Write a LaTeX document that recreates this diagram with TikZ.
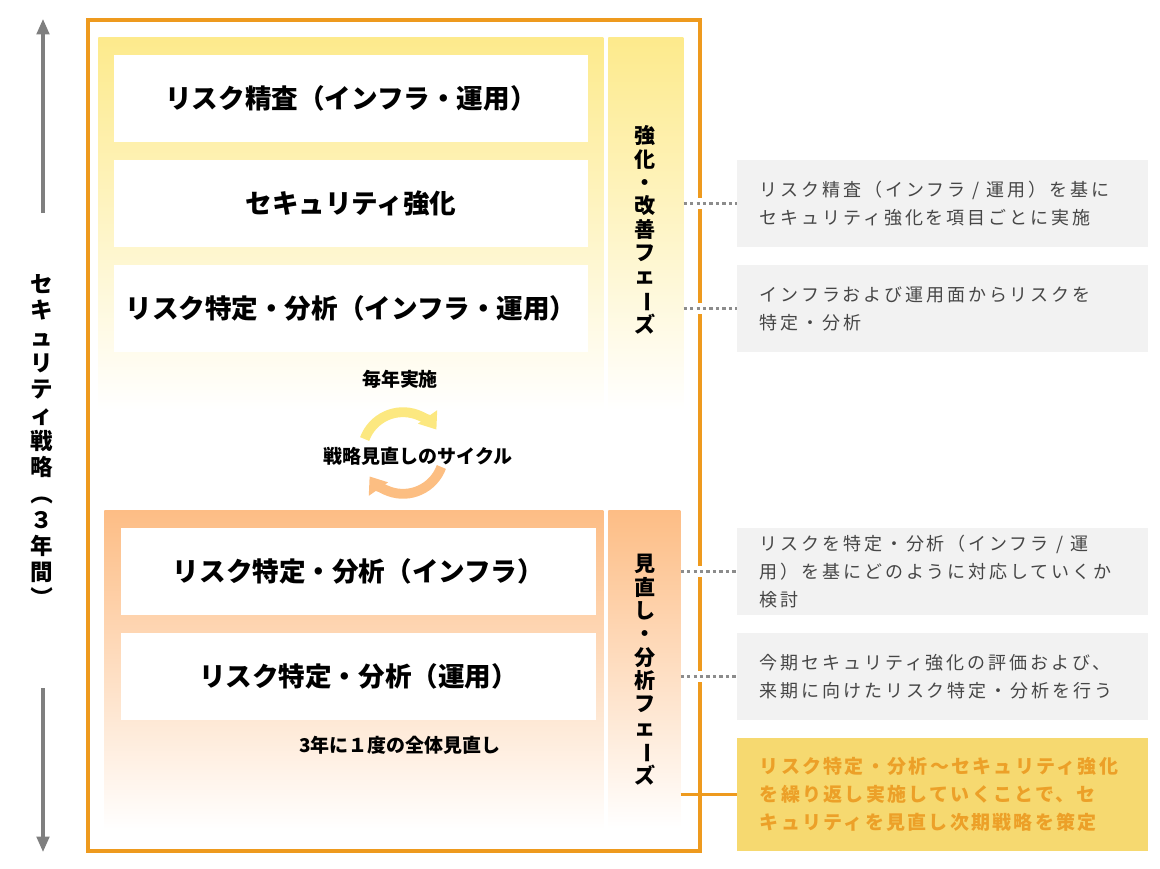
\documentclass[tikz,border=0pt]{standalone}
\usepackage{fontspec}
\setmainfont{Noto Sans CJK JP}
\newfontfamily\notefont[LetterSpace=16]{Noto Sans CJK JP}
\newfontfamily\sumfont[LetterSpace=12]{Noto Sans CJK JP}
\usetikzlibrary{arrows.meta}

\definecolor{frameorange}{RGB}{238,154,30}
\definecolor{phaseyellow}{RGB}{253,234,140}
\definecolor{phaseorange}{RGB}{253,189,133}
\definecolor{notegray}{RGB}{242,242,242}
\definecolor{notetext}{RGB}{70,70,70}
\definecolor{sumfill}{RGB}{246,217,112}
\definecolor{sumtext}{RGB}{236,160,40}
\definecolor{cycyellow}{RGB}{252,232,128}
\definecolor{cycorange}{RGB}{252,190,130}
\definecolor{arrgray}{RGB}{127,127,127}

\newcommand\vbar{\rotatebox[origin=c]{-90}{ー}}
\newcommand\vopen{\rotatebox[origin=c]{-90}{（}}
\newcommand\vclose{\rotatebox[origin=c]{-90}{）}}
\newcommand\slashsep{\hspace{0.4em}/\hspace{0.4em}}

\tikzset{
  stepbox/.style={fill=white,minimum width=11.85cm,minimum height=2.175cm,inner sep=0pt,
    font=\bfseries\fontsize{18.9}{22}\selectfont},
  note/.style={fill=notegray,minimum width=10.275cm,minimum height=2.175cm,inner xsep=0.575cm,
    text width=9.125cm,align=left,text=notetext,font=\notefont\fontsize{12.8}{20}\selectfont},
  vlabel/.style={align=center,inner sep=0pt,font=\bfseries\fontsize{15}{16.6}\selectfont},
  small/.style={font=\bfseries\fontsize{13.5}{16}\selectfont},
  dotconn/.style={draw=black!45,line width=2.3pt,dash pattern=on 2.3pt off 2.3pt,
    preaction={draw=white,line width=8.5pt,solid}},
  solidconn/.style={draw=frameorange,line width=2.2pt},
  lifearrow/.style={draw=arrgray,line width=2.2pt,-{Triangle[width=9pt,length=11pt]}}
}

\begin{document}
\begin{tikzpicture}[x=0.025cm,y=-0.025cm]
  \useasboundingbox (0,0) rectangle (1160,869);

  % phase panels
  \node[top color=phaseyellow,bottom color=white,minimum width=12.625cm,minimum height=9.325cm,
    inner sep=0pt,anchor=north west] (ph1) at (98,37) {};
  \node[top color=phaseyellow,bottom color=white,minimum width=1.875cm,minimum height=9.325cm,
    inner sep=0pt,anchor=north west] (ph1side) at (608,37) {};
  \node[top color=phaseorange,bottom color=white,minimum width=12.475cm,minimum height=8cm,
    inner sep=0pt,anchor=north west] (ph2) at (104,510) {};
  \node[top color=phaseorange,bottom color=white,minimum width=1.8cm,minimum height=7.95cm,
    inner sep=0pt,anchor=north west] (ph2side) at (608,510) {};

  % steps
  \node[stepbox] (seisa) at (351,98.5) {リスク精査（インフラ・運用）};
  \node[stepbox] (kyoka) at (351,203.5) {セキュリティ強化};
  \node[stepbox] (tokutei) at (351,308.5) {リスク特定・分析（インフラ・運用）};
  \node[stepbox,minimum width=11.875cm] (infra) at (358.5,571.5) {リスク特定・分析（インフラ）};
  \node[stepbox,minimum width=11.875cm] (unyo) at (358.5,676.5) {リスク特定・分析（運用）};

  \node[small] (maitoshi) at (400,379) {毎年実施};
  \node[small] (cycle) at (418,456) {戦略見直しのサイクル};
  \node[small] (sannen) at (400,745) {3年に１度の全体見直し};

  \node[vlabel] (ph1lbl) at (645,230) {強\\化\\・\\改\\善\\フ\\ェ\\\vbar\\ズ};
  \node[vlabel] (ph2lbl) at (645,670) {見\\直\\し\\・\\分\\析\\フ\\ェ\\\vbar\\ズ};

  % cycle arrows
  \begin{scope}[shift={(403,453)},x=1cm,y=1cm,line width=7pt]
    \draw[cycyellow,-{Triangle[width=16pt,length=11pt]}] (160:1.02) arc (160:35:1.02);
    \draw[cycorange,-{Triangle[width=16pt,length=11pt]}] (-20:1.02) arc (-20:-145:1.02);
  \end{scope}

  % frame
  \draw[frameorange,line width=2.4pt] (88,20) rectangle (700,851);

  % strategy span
  \node[vlabel,font=\bfseries\fontsize{16}{18.6}\selectfont] (span) at (42,442)
    {セ\\キ\\ュ\\リ\\テ\\ィ\\戦\\略\\\vopen\\３\\年\\間\\\vclose};
  \coordinate (uptip) at (43,19);
  \coordinate (upfoot) at (43,213);
  \coordinate (downfoot) at (43,688);
  \coordinate (downtip) at (43,852);
  \draw[lifearrow] (upfoot) -- (uptip);
  \draw[lifearrow] (downfoot) -- (downtip);

  % notes
  \node[note] (note1) at (942.5,203.5) {リスク精査（インフラ\slashsep 運用）を基に\\セキュリティ強化を項目ごとに実施};
  \node[note] (note2) at (942.5,308.5) {インフラおよび運用面からリスクを\\特定・分析};
  \node[note] (note3) at (942.5,571.5) {リスクを特定・分析（インフラ\slashsep 運\\用）を基にどのように対応していくか\\検討};
  \node[note] (note4) at (942.5,676.5) {今期セキュリティ強化の評価および、\\来期に向けたリスク特定・分析を行う};
  \node[note,fill=sumfill,minimum height=2.825cm,text=sumtext,
    font=\sumfont\bfseries\fontsize{13.5}{20}\selectfont] (summary) at (942.5,794.5)
    {リスク特定・分析～セキュリティ強化\\を繰り返し実施していくことで、セ\\キュリティを見直し次期戦略を策定};

  \draw[dotconn] (ph1side.east |- note1.west) -- (note1.west);
  \draw[dotconn] (ph1side.east |- note2.west) -- (note2.west);
  \draw[dotconn] (ph2side.east |- note3.west) -- (note3.west);
  \draw[dotconn] (ph2side.east |- note4.west) -- (note4.west);
  \draw[solidconn] (ph2side.east |- summary.west) -- (summary.west);
\end{tikzpicture}
\end{document}
